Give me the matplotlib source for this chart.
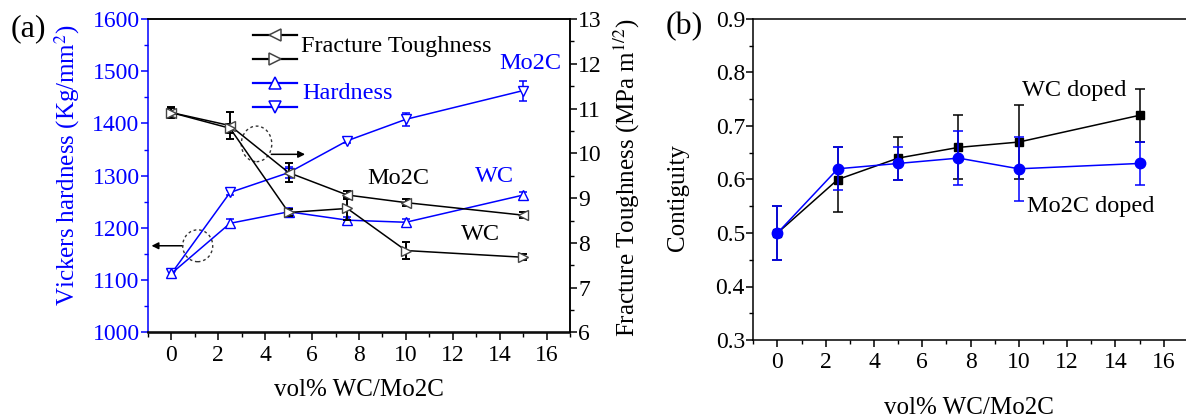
import matplotlib
matplotlib.use("Agg")
import matplotlib.pyplot as plt
from matplotlib.patches import Ellipse
from matplotlib.ticker import MultipleLocator

plt.rcParams['font.family'] = ['Liberation Serif', 'DejaVu Serif']
plt.rcParams['mathtext.fontset'] = 'stix'

BLUE = '#0000ff'

# ---------------- data ----------------
x_vol = [0, 2.5, 5, 7.5, 10, 15]

hard_wc = [1113, 1209, 1231, 1215, 1211, 1263]
hard_wc_err = [7, 8, 7, 6, 6, 6]
hard_mo = [1113, 1268, 1306, 1367, 1408, 1463]
hard_mo_err = [7, 5, 10, 5, 12, 19]

tough_mo = [10.91, 10.62, 9.57, 9.07, 8.90, 8.62]
tough_mo_err = [0.12, 0.30, 0.21, 0.08, 0.07, 0.07]
tough_wc = [10.91, 10.56, 8.68, 8.77, 7.83, 7.68]
tough_wc_err = [0.10, 0.10, 0.07, 0.25, 0.19, 0.07]

cont_wc = [0.50, 0.60, 0.64, 0.66, 0.67, 0.72]
cont_wc_err = [0.05, 0.06, 0.04, 0.06, 0.07, 0.05]
cont_mo = [0.50, 0.62, 0.63, 0.64, 0.62, 0.63]
cont_mo_err = [0.05, 0.04, 0.03, 0.05, 0.06, 0.04]

W, H = 1186, 420
fig = plt.figure(figsize=(W / 100, H / 100), dpi=100)

TICK_FS = 17
LAB_FS = 18
TXT_FS = 17.5

# ---------------- panel (a) ----------------
axa = fig.add_axes([148 / W, 1 - 332.5 / H, 422 / W, 313.5 / H])
axr = axa.twinx()

axa.set_xlim(-1, 17)
axa.set_ylim(1000, 1600)
axr.set_ylim(6, 13)

axa.xaxis.set_major_locator(MultipleLocator(2))
axa.xaxis.set_minor_locator(MultipleLocator(1))
axa.yaxis.set_major_locator(MultipleLocator(100))
axa.yaxis.set_minor_locator(MultipleLocator(50))
axr.yaxis.set_major_locator(MultipleLocator(1))
axr.yaxis.set_minor_locator(MultipleLocator(0.5))

for a in (axa, axr):
    a.tick_params(which='major', direction='out', length=5, width=1.1, labelsize=TICK_FS)
    a.tick_params(which='minor', direction='out', length=3, width=1.0)
axa.tick_params(axis='y', which='both', colors=BLUE, labelcolor=BLUE)
axa.tick_params(axis='y', pad=1)
axr.tick_params(axis='y', pad=1)
axa.tick_params(axis='x', pad=4)
axa.spines['left'].set_color(BLUE)
axr.spines['left'].set_color(BLUE)
for s in axr.spines.values():
    s.set_linewidth(1.1)
axr.spines['left'].set_visible(False)
for s in axa.spines.values():
    s.set_linewidth(1.1)

# hardness (left axis)
axa.errorbar(x_vol, hard_mo, yerr=hard_mo_err, color=BLUE, lw=1.1, marker='v',
             ms=7, mfc='white', mec=BLUE, capsize=3, elinewidth=1.1, capthick=1.1, zorder=3)
axa.errorbar(x_vol, hard_wc, yerr=hard_wc_err, color=BLUE, lw=1.1, marker='^',
             ms=7, mfc='white', mec=BLUE, capsize=3, elinewidth=1.1, capthick=1.1, zorder=3)

# toughness (right axis)
axr.errorbar(x_vol, tough_mo, yerr=tough_mo_err, color='black', lw=1.1, marker='<',
             ms=7, mfc='white', mec='#444444', capsize=3, elinewidth=1.4, capthick=1.4, zorder=2)
axr.errorbar(x_vol, tough_wc, yerr=tough_wc_err, color='black', lw=1.1, marker='>',
             ms=7, mfc='white', mec='#444444', capsize=3, elinewidth=1.4, capthick=1.4, zorder=2)

# custom legend
leg_y = [0.949, 0.871, 0.797, 0.718]
leg_m = ['<', '>', '^', 'v']
leg_c = ['black', 'black', BLUE, BLUE]
for yy, mm, cc in zip(leg_y, leg_m, leg_c):
    axa.plot([0.248, 0.352], [yy, yy], color=cc, lw=1.6, transform=axa.transAxes, clip_on=False)
    axa.plot([0.300], [yy], marker=mm, ms=9, mfc='white', mec=cc if cc == BLUE else '#444444',
             mew=1.1, ls='none', transform=axa.transAxes, clip_on=False)
axa.text(0.362, 0.912, 'Fracture Toughness', transform=axa.transAxes, fontsize=TXT_FS,
         ha='left', va='center', color='black')
axa.text(0.366, 0.763, 'Hardness', transform=axa.transAxes, fontsize=TXT_FS,
         ha='left', va='center', color=BLUE)

# series labels
axa.text(15.3, 1515, 'Mo2C', color=BLUE, fontsize=TXT_FS, ha='center', va='center')
axa.text(13.76, 1298, 'WC', color=BLUE, fontsize=TXT_FS, ha='center', va='center')
axa.text(9.66, 1295, 'Mo2C', color='black', fontsize=TXT_FS, ha='center', va='center')
axa.text(13.16, 1188, 'WC', color='black', fontsize=TXT_FS, ha='center', va='center')

# dashed circles with arrows
axa.add_patch(Ellipse((1.12, 1166), 1.28, 61, fill=False, ls=(0, (2, 2)), lw=1.0,
                      ec='#333333', zorder=4))
axa.annotate('', xy=(-0.85, 1166), xytext=(0.48, 1166),
             arrowprops=dict(arrowstyle='-|>', color='black', lw=1.1,
                             mutation_scale=10, shrinkA=0, shrinkB=0))
axa.add_patch(Ellipse((3.63, 1361), 1.3, 68, fill=False, ls=(0, (2, 2)), lw=1.0,
                      ec='#333333', zorder=4))
axa.annotate('', xy=(5.7, 1341), xytext=(4.26, 1341),
             arrowprops=dict(arrowstyle='-|>', color='black', lw=1.1,
                             mutation_scale=10, shrinkA=0, shrinkB=0))

fig.text(67 / W, 1 - 165 / H, 'Vickers hardness (Kg/mm$^{2}$)', rotation=90,
         ha='center', va='center', color=BLUE, fontsize=LAB_FS)
fig.text(627 / W, 1 - 178 / H, 'Fracture Toughness (MPa m$^{1/2}$)', rotation=90,
         ha='center', va='center', color='black', fontsize=LAB_FS)
fig.text(359 / W, 1 - 390 / H, 'vol% WC/Mo2C', ha='center', va='center', fontsize=LAB_FS)
fig.text(28 / W, 1 - 29 / H, '(a)', ha='center', va='center', fontsize=23)

# ---------------- panel (b) ----------------
axb = fig.add_axes([753.3 / W, 1 - 340 / H, 434.5 / W, 321 / H])
axb.set_xlim(-1, 17)
axb.set_ylim(0.3, 0.9)
axb.xaxis.set_major_locator(MultipleLocator(2))
axb.xaxis.set_minor_locator(MultipleLocator(1))
axb.yaxis.set_major_locator(MultipleLocator(0.1))
axb.yaxis.set_minor_locator(MultipleLocator(0.05))
axb.tick_params(which='major', direction='out', length=5, width=1.1, labelsize=TICK_FS)
axb.tick_params(which='minor', direction='out', length=3, width=1.0)
axb.tick_params(axis='y', pad=1)
axb.tick_params(axis='x', pad=4)
for s in axb.spines.values():
    s.set_linewidth(1.1)

axb.errorbar(x_vol, cont_wc, yerr=cont_wc_err, color='black', lw=1.1, marker='s', ms=6,
             mfc='black', mec='black', capsize=3.5, elinewidth=1.1, capthick=1.1, zorder=2)
axb.errorbar(x_vol, cont_mo, yerr=cont_mo_err, color=BLUE, lw=1.1, marker='o', ms=7.5,
             mfc=BLUE, mec=BLUE, capsize=3.5, elinewidth=1.1, capthick=1.1, zorder=3)

axb.text(12.28, 0.767, 'WC doped', fontsize=TXT_FS, ha='center', va='center')
axb.text(12.99, 0.549, 'Mo2C doped', fontsize=TXT_FS, ha='center', va='center')

fig.text(678 / W, 1 - 198 / H, 'Contiguity', rotation=90, ha='center', va='center',
         fontsize=LAB_FS)
fig.text(969 / W, 1 - 408 / H, 'vol% WC/Mo2C', ha='center', va='center', fontsize=LAB_FS)
fig.text(684 / W, 1 - 27 / H, '(b)', ha='center', va='center', fontsize=23)

fig.savefig('out.png', dpi=100)
